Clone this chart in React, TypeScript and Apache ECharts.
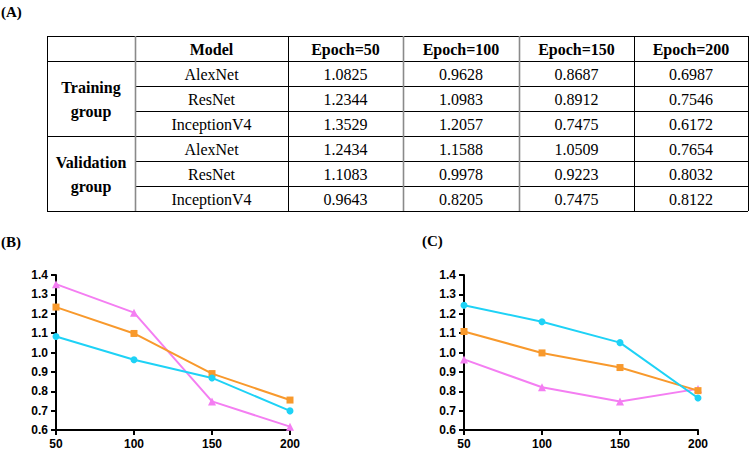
import React, { useEffect, useRef } from "react";
import * as echarts from "echarts";

const epochs = [50, 100, 150, 200];
const models = ["AlexNet", "ResNet", "InceptionV4"];
const groupNames = ["Training\ngroup", "Validation\ngroup"];
const headers = ["Model", "Epoch=50", "Epoch=100", "Epoch=150", "Epoch=200"];

const trainAlexNet = [1.0825, 0.9628, 0.8687, 0.6987];
const trainResNet = [1.2344, 1.0983, 0.8912, 0.7546];
const trainInception = [1.3529, 1.2057, 0.7475, 0.6172];
const validAlexNet = [1.2434, 1.1588, 1.0509, 0.7654];
const validResNet = [1.1083, 0.9978, 0.9223, 0.8032];
const validInception = [0.9643, 0.8205, 0.7475, 0.8122];

const yMin = 0.6;
const yMax = 1.4;
const yStep = 0.1;

const COLORS = { alex: "#1ed2f6", res: "#f8992c", inc: "#f47ef2" };
const SERIF = "Liberation Serif, Times New Roman, serif";
const SANS = "Liberation Sans, Arial, sans-serif";

// table layout
const colX = [47, 135, 288, 403, 519, 634, 748];
const rowY = [36, 61, 86, 111, 136, 161, 186, 211];

function buildTable(): any[] {
  const els: any[] = [];
  const trainRows = [trainAlexNet, trainResNet, trainInception];
  const validRows = [validAlexNet, validResNet, validInception];
  const allRows = [...trainRows, ...validRows];
  const line = (x1: number, y1: number, x2: number, y2: number, color = "#000", w = 1) => ({
    type: "line",
    shape: { x1, y1, x2, y2 },
    style: { stroke: color, lineWidth: w },
    silent: true,
  });
  const full = [0, 1, 4, 7];
  rowY.forEach((y, i) => {
    const x1 = full.includes(i) ? colX[0] : colX[1];
    els.push(line(x1, y + 0.5, colX[6], y + 0.5));
  });
  const grey = [1, 3, 4];
  colX.forEach((x, i) => {
    if (grey.includes(i)) els.push(line(x + 0.5, rowY[0], x + 0.5, rowY[7], "#8a8a8a", 1.6));
    else els.push(line(x + 0.5, rowY[0], x + 0.5, rowY[7]));
  });
  const text = (t: string, x: number, y: number, bold: boolean, lh = 24) => ({
    type: "text",
    x,
    y,
    silent: true,
    style: {
      text: t,
      fill: "#000",
      fontFamily: SERIF,
      fontSize: 16,
      fontWeight: bold ? "bold" : "normal",
      align: "center",
      verticalAlign: "middle",
      lineHeight: lh,
    },
  });
  headers.forEach((h, i) => {
    els.push(text(h, (colX[i + 1] + colX[i + 2]) / 2, (rowY[0] + rowY[1]) / 2 + 1, true));
  });
  groupNames.forEach((g, gi) => {
    const yc = (rowY[1 + gi * 3] + rowY[4 + gi * 3]) / 2 + 1;
    els.push(text(g, (colX[0] + colX[1]) / 2, yc, true));
  });
  allRows.forEach((vals, ri) => {
    const yc = (rowY[ri + 1] + rowY[ri + 2]) / 2 + 1;
    els.push(text(models[ri % 3], (colX[1] + colX[2]) / 2, yc, false));
    vals.forEach((v, ci) => {
      els.push(text(v.toFixed(4), (colX[ci + 2] + colX[ci + 3]) / 2, yc, false));
    });
  });
  const panel = (t: string, x: number, y: number) => ({
    type: "text",
    x,
    y,
    silent: true,
    style: {
      text: t,
      fill: "#000",
      fontFamily: SERIF,
      fontSize: 15,
      fontWeight: "bold",
      align: "left",
      verticalAlign: "middle",
    },
  });
  els.push(panel("(A)", 1, 12));
  els.push(panel("(B)", 1, 242));
  els.push(panel("(C)", 422, 241));
  return els;
}

function makeAxes(gridIndex: number) {
  const xAxis = {
    type: "value",
    gridIndex,
    min: epochs[0],
    max: epochs[epochs.length - 1],
    interval: 50,
    axisLine: { show: true, lineStyle: { color: "#000", width: 2 } },
    axisTick: { show: true, length: 5, lineStyle: { color: "#000", width: 2 } },
    axisLabel: { color: "#000", fontWeight: "bold", fontSize: 12, fontFamily: SANS, margin: 8 },
    splitLine: { show: false },
  };
  const yAxis = {
    type: "value",
    gridIndex,
    min: yMin,
    max: yMax,
    interval: yStep,
    axisLine: { show: true, lineStyle: { color: "#000", width: 2 } },
    axisTick: { show: true, length: 5, lineStyle: { color: "#000", width: 2 } },
    axisLabel: {
      color: "#000",
      fontWeight: "bold",
      fontSize: 12,
      fontFamily: SANS,
      margin: 8,
      formatter: (v: number) => v.toFixed(1),
    },
    splitLine: { show: false },
  };
  return { xAxis, yAxis };
}

function makeSeries(idx: number, vals: number[], color: string, symbol: string, size: number) {
  return {
    type: "line",
    xAxisIndex: idx,
    yAxisIndex: idx,
    data: epochs.map((e, i) => [e, vals[i]]),
    symbol,
    symbolSize: size,
    showAllSymbol: true,
    lineStyle: { color, width: 2 },
    itemStyle: { color, borderWidth: 0 },
  };
}

export default function App() {
  const ref = useRef<HTMLDivElement>(null);
  useEffect(() => {
    if (!ref.current) return;
    const chart = echarts.init(ref.current, null, { renderer: "svg" });
    const a0 = makeAxes(0);
    const a1 = makeAxes(1);
    chart.setOption({
      animation: false,
      backgroundColor: "#fff",
      grid: [
        { left: 56, right: 460, top: 275, bottom: 20 },
        { left: 464, right: 52, top: 275, bottom: 20 },
      ],
      xAxis: [a0.xAxis, a1.xAxis],
      yAxis: [a0.yAxis, a1.yAxis],
      series: [
        makeSeries(0, trainInception, COLORS.inc, "triangle", 8),
        makeSeries(0, trainResNet, COLORS.res, "rect", 7),
        makeSeries(0, trainAlexNet, COLORS.alex, "circle", 7),
        makeSeries(1, validInception, COLORS.inc, "triangle", 8),
        makeSeries(1, validResNet, COLORS.res, "rect", 7),
        makeSeries(1, validAlexNet, COLORS.alex, "circle", 7),
      ],
      graphic: buildTable(),
    });
    return () => chart.dispose();
  }, []);
  return (
    <div
      ref={ref}
      style={{ position: "fixed", left: 0, top: 0, width: 750, height: 450, background: "#fff" }}
    />
  );
}
